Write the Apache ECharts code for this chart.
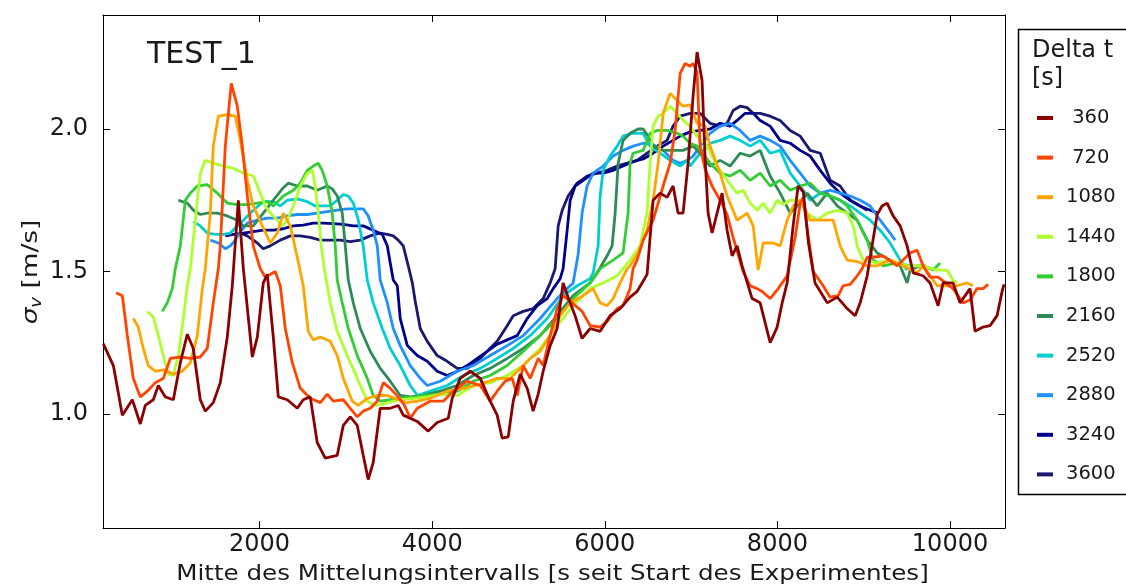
<!DOCTYPE html>
<html>
<head>
<meta charset="utf-8">
<script src="https://cdn.jsdelivr.net/npm/echarts@6/dist/echarts.min.js"></script>
<style>html,body{margin:0;padding:0;background:#fff;}#c{width:1126px;height:586px;}</style>
</head>
<body>
<div id="c"></div>
<script>
const X_TICKS = [2000, 4000, 6000, 8000, 10000];
const Y_TICKS = [1.0, 1.5, 2.0];
const LABELS = [' 360', ' 720', '1080', '1440', '1800', '2160', '2520', '2880', '3240', '3600'];
const COLORS = ['#8b0000', '#ff4500', '#ffa500', '#adff2f', '#32cd32', '#2e8b57', '#00ced1', '#1e90ff', '#00008b', '#191970'];

const S360 = [[190,1.246],[306,1.17],[410,0.996],[526,1.05],[618,0.965],[676,1.03],[769,1.05],[827,1.10],[908,1.06],[1001,1.05],[1082,1.18],[1163,1.28],[1232,1.23],[1313,1.05],[1371,1.01],[1464,1.04],[1545,1.11],[1626,1.27],[1684,1.45],[1754,1.75],[1812,1.51],[1916,1.20],[1974,1.27],[2043,1.46],[2090,1.49],[2159,1.27],[2217,1.06],[2321,1.05],[2437,1.02],[2506,1.05],[2587,1.06],[2668,0.90],[2761,0.845],[2900,0.855],[2970,0.96],[3051,0.99],[3132,0.96],[3201,0.855],[3259,0.77],[3317,0.83],[3398,1.02],[3514,1.02],[3607,1.03],[3665,0.996],[3827,0.974],[3954,0.94],[4058,0.97],[4186,0.985],[4232,1.055],[4325,1.125],[4441,1.15],[4557,1.125],[4672,1.045],[4753,0.996],[4811,0.915],[4881,0.92],[4939,1.045],[5020,1.14],[5101,1.09],[5170,1.01],[5228,1.07],[5286,1.15],[5367,1.24],[5448,1.30],[5517,1.46],[5575,1.41],[5656,1.345],[5737,1.265],[5830,1.30],[5946,1.29],[6061,1.345],[6177,1.37],[6293,1.41],[6374,1.43],[6490,1.49],[6560,1.75],[6641,1.775],[6722,1.76],[6791,1.80],[6849,1.705],[6907,1.705],[6965,1.88],[7023,2.115],[7069,2.27],[7127,2.17],[7162,1.90],[7197,1.705],[7243,1.635],[7301,1.705],[7359,1.775],[7417,1.645],[7475,1.555],[7533,1.59],[7591,1.52],[7707,1.405],[7800,1.39],[7916,1.25],[7997,1.305],[8055,1.39],[8113,1.46],[8182,1.66],[8240,1.80],[8300,1.78],[8360,1.60],[8436,1.46],[8577,1.39],[8693,1.41],[8808,1.37],[8901,1.345],[8959,1.39],[9040,1.485],[9156,1.70],[9213,1.73],[9271,1.74],[9341,1.695],[9422,1.66],[9503,1.59],[9573,1.495],[9688,1.485],[9769,1.46],[9862,1.38],[9920,1.46],[10035,1.46],[10116,1.39],[10232,1.44],[10290,1.29],[10383,1.305],[10464,1.31],[10545,1.345],[10603,1.43],[10626,1.455]];

const S720 = [[340,1.425],[410,1.415],[468,1.275],[537,1.125],[618,1.06],[700,1.08],[792,1.11],[885,1.125],[966,1.195],[1082,1.20],[1198,1.195],[1313,1.20],[1394,1.23],[1464,1.39],[1522,1.51],[1545,1.59],[1603,1.94],[1672,2.16],[1742,2.08],[1800,1.94],[1858,1.765],[1927,1.59],[2008,1.51],[2066,1.48],[2182,1.50],[2240,1.45],[2298,1.30],[2379,1.18],[2472,1.09],[2587,1.055],[2703,1.04],[2784,1.07],[2854,1.045],[2970,1.05],[3051,1.02],[3132,0.99],[3201,1.01],[3282,1.02],[3364,1.045],[3434,1.11],[3514,1.09],[3607,1.06],[3680,1.03],[3746,0.985],[3827,1.02],[3977,1.045],[4128,1.045],[4244,1.08],[4406,1.115],[4557,1.10],[4672,1.045],[4753,1.08],[4846,1.115],[4927,1.125],[4985,1.065],[5055,1.17],[5136,1.125],[5228,1.195],[5286,1.17],[5367,1.275],[5448,1.37],[5517,1.415],[5622,1.39],[5737,1.36],[5830,1.31],[5946,1.305],[6027,1.325],[6143,1.37],[6212,1.38],[6293,1.44],[6328,1.51],[6374,1.54],[6444,1.61],[6560,1.68],[6676,1.80],[6757,1.88],[6815,1.995],[6873,2.195],[6931,2.23],[6988,2.22],[7023,2.23],[7069,2.2],[7104,1.94],[7162,1.86],[7243,1.80],[7336,1.75],[7417,1.70],[7487,1.62],[7603,1.50],[7684,1.45],[7765,1.44],[7823,1.43],[7916,1.405],[8009,1.44],[8113,1.485],[8206,1.62],[8264,1.74],[8299,1.76],[8345,1.65],[8415,1.50],[8530,1.45],[8611,1.41],[8704,1.415],[8762,1.45],[8843,1.455],[8924,1.485],[8982,1.51],[9040,1.55],[9109,1.55],[9225,1.555],[9387,1.52],[9538,1.565],[9619,1.575],[9688,1.52],[9769,1.48],[9862,1.48],[10035,1.44],[10151,1.39],[10232,1.40],[10313,1.44],[10383,1.44],[10441,1.455]];

const S1080 = [[537,1.335],[595,1.305],[653,1.23],[711,1.17],[792,1.15],[885,1.155],[1001,1.14],[1105,1.15],[1198,1.18],[1279,1.275],[1337,1.44],[1371,1.51],[1429,1.705],[1464,1.94],[1522,2.045],[1626,2.05],[1719,2.045],[1777,1.96],[1858,1.82],[1927,1.73],[2032,1.66],[2124,1.60],[2205,1.635],[2275,1.705],[2356,1.66],[2437,1.55],[2506,1.45],[2564,1.29],[2622,1.26],[2703,1.27],[2819,1.255],[2900,1.205],[2970,1.125],[3074,1.045],[3144,1.03],[3248,1.055],[3364,1.065],[3480,1.065],[3607,1.05],[3700,1.04],[3827,1.045],[3977,1.055],[4174,1.08],[4360,1.09],[4557,1.105],[4753,1.125],[4904,1.125],[5020,1.16],[5136,1.195],[5251,1.22],[5367,1.275],[5483,1.345],[5599,1.39],[5749,1.415],[5865,1.44],[5946,1.39],[6027,1.38],[6097,1.405],[6177,1.46],[6259,1.51],[6293,1.52],[6386,1.565],[6490,1.645],[6560,1.75],[6618,1.88],[6676,2.055],[6757,2.125],[6838,2.10],[6907,2.08],[6988,2.085],[7069,2.02],[7162,2.01],[7220,1.94],[7336,1.845],[7417,1.765],[7533,1.68],[7649,1.705],[7719,1.66],[7777,1.505],[7835,1.60],[7951,1.60],[8032,1.59],[8113,1.68],[8182,1.73],[8264,1.75],[8380,1.68],[8530,1.68],[8646,1.68],[8727,1.59],[8808,1.54],[8924,1.535],[9040,1.52],[9156,1.52],[9306,1.54],[9457,1.52],[9619,1.495],[9688,1.52],[9851,1.45],[10081,1.45],[10197,1.46],[10267,1.45]];

const S1440 = [[700,1.36],[769,1.34],[827,1.275],[885,1.205],[943,1.14],[1001,1.135],[1059,1.205],[1117,1.335],[1163,1.45],[1198,1.51],[1279,1.75],[1313,1.845],[1371,1.89],[1464,1.88],[1580,1.87],[1696,1.862],[1812,1.845],[1927,1.835],[2008,1.775],[2066,1.73],[2124,1.705],[2205,1.68],[2263,1.66],[2321,1.68],[2391,1.73],[2472,1.80],[2553,1.845],[2611,1.855],[2645,1.80],[2680,1.705],[2715,1.59],[2750,1.51],[2819,1.39],[2900,1.29],[3016,1.205],[3132,1.125],[3248,1.045],[3340,1.03],[3434,1.035],[3549,1.045],[3630,1.05],[3800,1.055],[3950,1.06],[4093,1.07],[4290,1.065],[4476,1.10],[4672,1.11],[4869,1.135],[5055,1.17],[5251,1.23],[5448,1.31],[5633,1.38],[5830,1.44],[5981,1.46],[6143,1.485],[6212,1.51],[6293,1.54],[6409,1.59],[6490,1.705],[6525,1.88],[6560,2.01],[6618,2.045],[6676,2.055],[6757,2.08],[6838,2.055],[6907,2.03],[6988,2.01],[7069,1.975],[7185,1.94],[7301,1.87],[7417,1.82],[7533,1.775],[7603,1.785],[7684,1.74],[7765,1.715],[7835,1.74],[7916,1.705],[7997,1.75],[8067,1.735],[8148,1.75],[8264,1.75],[8345,1.705],[8461,1.68],[8577,1.705],[8693,1.715],[8808,1.705],[8878,1.66],[8924,1.59],[8994,1.54],[9156,1.53],[9306,1.54],[9503,1.52],[9688,1.52],[9851,1.505],[9966,1.505],[10035,1.47],[10081,1.46]];

const S1800 = [[873,1.36],[931,1.39],[989,1.44],[1024,1.51],[1082,1.59],[1140,1.75],[1198,1.775],[1279,1.80],[1394,1.805],[1510,1.775],[1626,1.74],[1742,1.735],[1858,1.735],[1974,1.74],[2090,1.745],[2159,1.73],[2275,1.765],[2391,1.785],[2472,1.81],[2553,1.855],[2622,1.87],[2680,1.88],[2726,1.855],[2784,1.80],[2842,1.705],[2877,1.59],[2900,1.47],[2958,1.39],[3028,1.30],[3132,1.205],[3248,1.125],[3317,1.065],[3398,1.045],[3514,1.05],[3607,1.055],[3800,1.06],[3897,1.065],[4093,1.07],[4290,1.08],[4476,1.115],[4672,1.135],[4869,1.17],[5055,1.22],[5251,1.275],[5448,1.335],[5633,1.405],[5830,1.46],[5946,1.51],[6097,1.54],[6212,1.565],[6270,1.705],[6293,1.88],[6328,1.915],[6444,1.925],[6525,1.985],[6606,1.995],[6722,1.995],[6838,1.985],[6907,1.975],[6988,1.95],[7069,1.94],[7220,1.88],[7336,1.845],[7452,1.835],[7568,1.855],[7684,1.82],[7800,1.845],[7916,1.80],[8032,1.82],[8148,1.785],[8264,1.80],[8380,1.81],[8496,1.775],[8611,1.765],[8727,1.75],[8808,1.73],[8924,1.68],[9040,1.61],[9109,1.54],[9225,1.52],[9387,1.53],[9538,1.52],[9688,1.52],[9804,1.505],[9885,1.53]];

const S2160 = [[1059,1.75],[1163,1.74],[1232,1.715],[1313,1.70],[1394,1.705],[1510,1.705],[1626,1.695],[1742,1.68],[1812,1.66],[1927,1.66],[2043,1.705],[2159,1.75],[2263,1.79],[2333,1.81],[2437,1.80],[2553,1.80],[2668,1.785],[2784,1.80],[2842,1.79],[2900,1.765],[2958,1.705],[2993,1.59],[3028,1.47],[3086,1.39],[3167,1.30],[3282,1.22],[3398,1.16],[3514,1.115],[3630,1.065],[3746,1.06],[3897,1.065],[4093,1.08],[4290,1.10],[4476,1.135],[4672,1.16],[4869,1.195],[5055,1.23],[5251,1.275],[5448,1.345],[5633,1.415],[5830,1.46],[5911,1.495],[6027,1.555],[6085,1.59],[6120,1.705],[6155,1.88],[6212,1.96],[6293,1.985],[6386,2.0],[6444,2.0],[6502,1.975],[6560,1.94],[6676,1.925],[6791,1.925],[6907,1.925],[7023,1.94],[7104,1.915],[7220,1.87],[7336,1.89],[7452,1.87],[7568,1.915],[7684,1.905],[7800,1.925],[7916,1.835],[8032,1.775],[8148,1.705],[8229,1.73],[8345,1.775],[8461,1.73],[8577,1.775],[8693,1.73],[8808,1.705],[8924,1.68],[9040,1.61],[9156,1.565],[9306,1.54],[9422,1.52],[9503,1.46],[9538,1.505],[9654,1.52],[9720,1.52]];

const S2520 = [[1232,1.675],[1313,1.66],[1394,1.635],[1487,1.63],[1580,1.63],[1661,1.635],[1742,1.66],[1812,1.68],[1927,1.715],[2043,1.745],[2159,1.745],[2240,1.73],[2321,1.75],[2437,1.755],[2553,1.745],[2645,1.73],[2726,1.73],[2819,1.73],[2900,1.75],[2970,1.77],[3028,1.765],[3086,1.74],[3144,1.68],[3201,1.59],[3248,1.47],[3317,1.39],[3422,1.30],[3514,1.23],[3630,1.17],[3746,1.10],[3830,1.065],[3977,1.08],[4174,1.10],[4360,1.135],[4557,1.16],[4753,1.195],[4939,1.23],[5136,1.275],[5333,1.335],[5517,1.415],[5680,1.45],[5830,1.475],[5865,1.495],[5923,1.59],[5946,1.765],[5981,1.855],[6061,1.905],[6143,1.94],[6212,1.975],[6328,1.985],[6444,1.985],[6525,1.94],[6641,1.915],[6757,1.89],[6873,1.87],[6954,1.89],[6988,1.87],[7104,1.915],[7220,1.95],[7336,1.96],[7452,1.975],[7568,1.96],[7684,1.94],[7800,1.96],[7916,1.915],[8032,1.925],[8148,1.845],[8264,1.80],[8380,1.75],[8496,1.775],[8611,1.765],[8727,1.75],[8843,1.73],[8959,1.705],[9075,1.68],[9190,1.645],[9306,1.60],[9422,1.54],[9503,1.505]];

const S2880 = [[1429,1.61],[1522,1.60],[1603,1.58],[1661,1.59],[1719,1.61],[1777,1.64],[1858,1.67],[1974,1.68],[2090,1.687],[2205,1.687],[2321,1.695],[2437,1.70],[2553,1.70],[2668,1.705],[2784,1.71],[2900,1.715],[3016,1.72],[3132,1.72],[3201,1.72],[3259,1.695],[3317,1.645],[3364,1.59],[3398,1.47],[3480,1.39],[3549,1.30],[3630,1.24],[3746,1.17],[3862,1.125],[3943,1.10],[4093,1.115],[4290,1.15],[4476,1.17],[4672,1.205],[4869,1.24],[5055,1.275],[5251,1.335],[5448,1.405],[5564,1.44],[5633,1.46],[5691,1.56],[5737,1.705],[5795,1.80],[5865,1.845],[5981,1.87],[6097,1.905],[6212,1.925],[6328,1.94],[6444,1.95],[6560,1.945],[6676,1.925],[6791,1.89],[6873,1.88],[6954,1.89],[7023,1.905],[7104,1.94],[7220,1.985],[7336,2.01],[7452,2.02],[7568,1.995],[7684,1.96],[7800,1.975],[7916,1.96],[8032,1.94],[8148,1.89],[8264,1.845],[8380,1.80],[8496,1.775],[8611,1.785],[8727,1.775],[8843,1.765],[8959,1.75],[9075,1.73],[9190,1.68],[9306,1.635],[9364,1.61]];

const S3240 = [[1603,1.625],[1696,1.63],[1812,1.635],[1927,1.64],[2043,1.645],[2159,1.645],[2275,1.65],[2391,1.66],[2506,1.663],[2622,1.67],[2738,1.67],[2854,1.668],[2970,1.665],[3086,1.66],[3201,1.66],[3317,1.645],[3422,1.63],[3480,1.59],[3514,1.53],[3549,1.47],[3596,1.45],[3630,1.335],[3712,1.24],[3827,1.205],[3943,1.185],[4058,1.15],[4174,1.135],[4290,1.15],[4406,1.17],[4522,1.195],[4638,1.22],[4753,1.245],[4869,1.26],[4985,1.275],[5101,1.335],[5217,1.38],[5333,1.405],[5402,1.44],[5483,1.475],[5517,1.51],[5564,1.645],[5599,1.75],[5656,1.80],[5749,1.82],[5865,1.845],[5981,1.845],[6097,1.855],[6212,1.87],[6328,1.885],[6444,1.895],[6560,1.915],[6676,1.94],[6791,1.96],[6873,1.975],[6988,1.99],[7104,1.995],[7220,2.0],[7336,2.02],[7452,2.01],[7533,2.03],[7626,2.055],[7719,2.055],[7800,2.03],[7916,2.01],[8032,1.96],[8148,1.95],[8264,1.925],[8380,1.905],[8496,1.855],[8611,1.81],[8727,1.775],[8843,1.75],[8959,1.73],[9075,1.715],[9167,1.705]];

const S3600 = [[1777,1.635],[1858,1.625],[1974,1.60],[2043,1.58],[2124,1.59],[2240,1.61],[2356,1.625],[2472,1.625],[2587,1.62],[2703,1.61],[2819,1.61],[2935,1.61],[3051,1.605],[3167,1.61],[3282,1.625],[3398,1.635],[3480,1.63],[3549,1.625],[3607,1.61],[3665,1.59],[3723,1.52],[3770,1.46],[3804,1.395],[3862,1.30],[3943,1.255],[4058,1.205],[4174,1.185],[4290,1.16],[4406,1.16],[4522,1.185],[4638,1.22],[4753,1.255],[4869,1.31],[4939,1.345],[5055,1.36],[5170,1.37],[5286,1.405],[5367,1.46],[5425,1.51],[5460,1.66],[5507,1.715],[5575,1.765],[5680,1.81],[5795,1.835],[5911,1.845],[6027,1.855],[6143,1.87],[6259,1.88],[6374,1.89],[6490,1.915],[6606,1.94],[6722,1.96],[6791,2.01],[6873,2.045],[6988,2.055],[7104,2.055],[7220,2.02],[7336,2.01],[7417,2.02],[7487,2.065],[7568,2.08],[7649,2.075],[7719,2.055],[7800,2.055],[7916,2.045],[8032,2.03],[8148,1.995],[8264,1.975],[8380,1.925],[8496,1.915],[8611,1.82],[8727,1.80],[8843,1.75],[8959,1.73],[9040,1.715]];

const SERIES_DATA = [S360, S720, S1080, S1440, S1800, S2160, S2520, S2880, S3240, S3600];

const X_TITLE = 'Mitte des Mittelungsintervalls [s seit Start des Experimentes]';
const Y_TITLE = '{s|σ}{v|v} [m/s]';

const FONT = 'DejaVu Sans';
const TXT = '#1a1a1a';
const chart = echarts.init(document.getElementById('c'), null, {renderer: 'canvas'});

const series = [];
for (let i = SERIES_DATA.length - 1; i >= 0; i--) {
  series.push({
    name: LABELS[i],
    type: 'line',
    data: SERIES_DATA[i],
    showSymbol: false,
    symbol: 'none',
    xAxisIndex: 0,
    yAxisIndex: 0,
    lineStyle: {color: COLORS[i], width: 2.8},
    itemStyle: {color: COLORS[i]},
    emphasis: {disabled: true},
    z: 2
  });
}

const axisLineStyle = {show: true, lineStyle: {color: '#000', width: 1}};
const tickStyle = {color: '#000', width: 1};

const option = {
  animation: false,
  backgroundColor: '#fff',
  grid: {left: 103, top: 15, right: 121, bottom: 58, containLabel: false, outerBoundsMode: 'none'},
  xAxis: [
    {
      type: 'value', min: 186, max: 10637, position: 'bottom',
      axisLine: axisLineStyle,
      axisTick: {show: true, inside: true, length: 7, customValues: X_TICKS, lineStyle: tickStyle},
      axisLabel: {show: true, customValues: X_TICKS, fontSize: 24, fontFamily: FONT, color: TXT, margin: 5,
        formatter: v => String(Math.round(v))},
      splitLine: {show: false}
    },
    {
      type: 'value', min: 186, max: 10637, position: 'top',
      axisLine: axisLineStyle,
      axisTick: {show: true, inside: true, length: 7, customValues: X_TICKS, lineStyle: tickStyle},
      axisLabel: {show: false},
      splitLine: {show: false}
    }
  ],
  yAxis: [
    {
      type: 'value', min: 0.6, max: 2.4, position: 'left',
      axisLine: axisLineStyle,
      axisTick: {show: true, inside: true, length: 7, customValues: Y_TICKS, lineStyle: tickStyle},
      axisLabel: {show: true, customValues: Y_TICKS, fontSize: 24, fontFamily: FONT, color: TXT, margin: 15,
        formatter: v => v.toFixed(1)},
      splitLine: {show: false}
    },
    {
      type: 'value', min: 0.6, max: 2.4, position: 'right',
      axisLine: axisLineStyle,
      axisTick: {show: true, inside: true, length: 7, customValues: Y_TICKS, lineStyle: tickStyle},
      axisLabel: {show: false},
      splitLine: {show: false}
    }
  ],
  legend: {
    orient: 'vertical',
    left: 1037, top: 108,
    padding: 0,
    itemWidth: 16, itemHeight: 4, itemGap: 19.6,
    icon: 'rect',
    selectedMode: false,
    data: LABELS,
    textStyle: {fontSize: 19.5, fontFamily: FONT, color: TXT, lineHeight: 20, padding: [0, 0, 0, 8]}
  },
  graphic: [
    {type: 'rect', z: 0, shape: {x: 1018.5, y: 29.5, width: 140, height: 465},
     style: {fill: 'none', stroke: '#000', lineWidth: 1.5}},
    {type: 'text', z: 10, left: 1032, top: 37,
     style: {text: 'Delta t\n[s]', fontSize: 24, fontFamily: FONT, fill: TXT, lineHeight: 28}},
    {type: 'text', z: 10, left: 147, top: 40,
     style: {text: 'TEST_1', fontSize: 30, fontFamily: FONT, fill: TXT}},
    {type: 'text', z: 10, x: 552.5, y: 574.5, scaleX: 1.17, scaleY: 1,
     style: {text: X_TITLE, fontSize: 21, fontFamily: FONT, fill: TXT, align: 'center', verticalAlign: 'middle'}},
    {type: 'text', z: 10, x: 31, y: 272, rotation: Math.PI / 2, scaleX: 1.2, scaleY: 1,
     style: {text: Y_TITLE, fontSize: 22, fontFamily: FONT, fill: TXT, align: 'center', verticalAlign: 'middle',
       rich: {
         s: {fontSize: 22, fontFamily: FONT, fontStyle: 'italic', fill: TXT, lineHeight: 28},
         v: {fontSize: 15, fontFamily: FONT, fontStyle: 'italic', fill: TXT, lineHeight: 13, verticalAlign: 'bottom'}
       }}}
  ],
  series: series
};
chart.setOption(option);
</script>
</body>
</html>
